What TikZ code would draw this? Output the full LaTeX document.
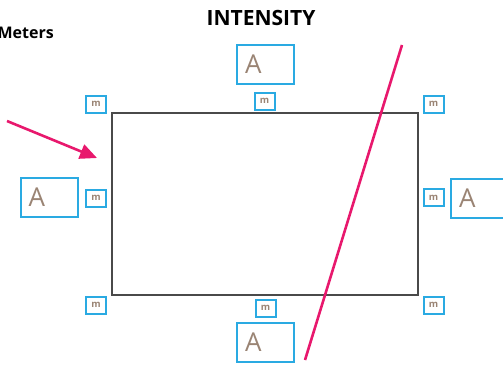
\documentclass[tikz,border=0pt]{standalone}
\usepackage{fontspec}
\setmainfont{Open Sans}
\usetikzlibrary{arrows.meta}
\definecolor{boxblue}{HTML}{2AAAE2}
\definecolor{hotpink}{HTML}{E8186D}
\definecolor{letterbrown}{HTML}{9A8474}
\definecolor{framegray}{HTML}{4A4A4A}
\tikzset{
  abox/.style={draw=boxblue, line width=2pt, minimum width=57pt, minimum height=39pt,
    text width=41pt, inner xsep=8pt, align=left, font=\fontsize{26}{26}\selectfont,
    text=letterbrown},
  mbox/.style={draw=boxblue, line width=2pt, minimum width=20pt, minimum height=17pt,
    inner sep=0pt, font=\bfseries\fontsize{9.5}{9.5}\selectfont, text=letterbrown},
  title/.style={font=\bfseries\fontsize{21}{21}\selectfont, text=black},
}
\begin{document}
\begin{tikzpicture}[x=1pt,y=-1pt]
  \useasboundingbox (0,0) rectangle (503,367);
  % main area
  \draw[framegray, line width=2pt] (112,113) rectangle (418,295);
  % headings
  \node[title] (heading) at (261,18) {INTENSITY};
  \node[font=\bfseries\fontsize{16}{16}\selectfont, anchor=east, inner xsep=0pt] (meters) at (54,33) {Meters};
  % amplitude boxes
  \node[abox] (atop) at (265.5,64.5) {A};
  \node[abox] (aleft) at (49,197.5) {A};
  \node[abox] (aright) at (479.5,198) {A};
  \node[abox] (abottom) at (265.5,342) {A};
  % meter markers
  \node[mbox] (mtl) at (96,104) {m};
  \node[mbox] (mt) at (264.5,101) {m};
  \node[mbox] (mtr) at (433.5,104) {m};
  \node[mbox] (ml) at (96,198) {m};
  \node[mbox] (mr) at (433.5,197.5) {m};
  \node[mbox] (mbl) at (96,305) {m};
  \node[mbox] (mb) at (265.5,308) {m};
  \node[mbox] (mbr) at (433.5,305) {m};
  % crossing line and pointer
  \coordinate (cutA) at (402,45);
  \coordinate (cutB) at (305,360);
  \draw[hotpink, line width=2.6pt] (cutA) -- (cutB);
  \coordinate (ptrA) at (7,121);
  \coordinate (ptrB) at (97,158);
  \draw[hotpink, line width=2.6pt, -{Triangle[length=17pt,width=15pt]}] (ptrA) -- (ptrB);
\end{tikzpicture}
\end{document}
